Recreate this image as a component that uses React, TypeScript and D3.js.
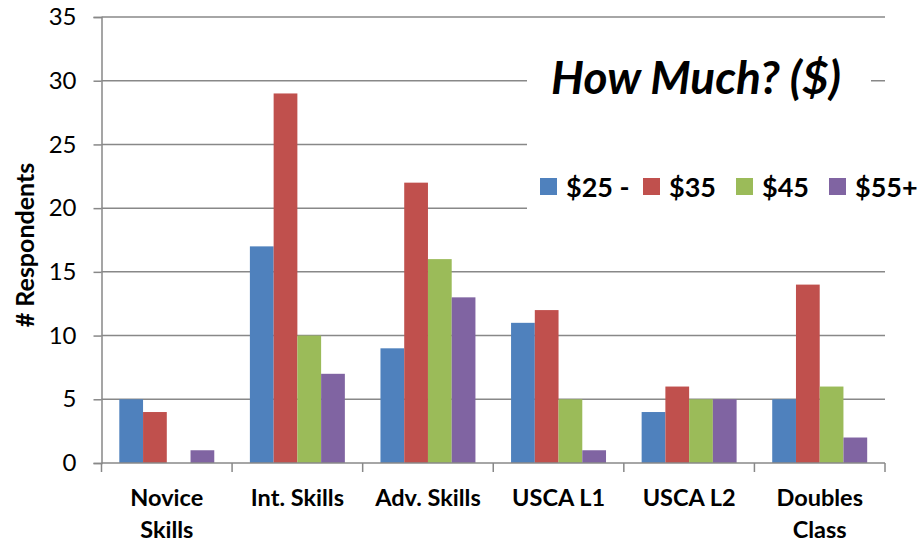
import React, { useEffect, useRef } from 'react';
import * as d3 from 'd3';

const categories = ['Novice Skills', 'Int. Skills', 'Adv. Skills', 'USCA L1', 'USCA L2', 'Doubles Class'];
const seriesNames = ['$25 -', '$35', '$45', '$55+'];
const price25 = [5, 17, 9, 11, 4, 5];
const price35 = [4, 29, 22, 12, 6, 14];
const price45 = [0, 10, 16, 5, 5, 6];
const price55 = [1, 7, 13, 1, 5, 2];
const yTicks = [0, 5, 10, 15, 20, 25, 30, 35];
const colors = ['#4F81BD', '#C0504D', '#9BBB59', '#8064A2'];

const FONT = 'Lato, "Open Sans", sans-serif';

function App() {
  const ref = useRef<SVGSVGElement | null>(null);

  useEffect(() => {
    if (!ref.current) return;
    const svg = d3.select(ref.current);
    svg.selectAll('*').remove();

    const left = 101.5, right = 885, top = 17, bottom = 463;
    const values = [price25, price35, price45, price55];

    const x = d3.scaleBand().domain(categories).range([left, right]).paddingInner(0).paddingOuter(0);
    const xs = d3.scaleBand().domain(seriesNames).range([0, x.bandwidth()]).paddingInner(0).paddingOuter(0.75);
    const y = d3.scaleLinear().domain([0, 35]).range([bottom, top]);

    // gridlines
    svg.append('g')
      .selectAll('line')
      .data(yTicks.filter(t => t > 0))
      .enter()
      .append('line')
      .attr('x1', left).attr('x2', right)
      .attr('y1', d => y(d)).attr('y2', d => y(d))
      .attr('stroke', '#888').attr('stroke-width', 1.5);

    // y axis
    const yAxis = d3.axisLeft(y).tickValues(yTicks).tickSize(8).tickPadding(17);
    const yg = svg.append('g').attr('transform', `translate(${left},0)`).call(yAxis);
    yg.select('.domain').attr('stroke', '#888').attr('stroke-width', 1.5);
    yg.selectAll('.tick line').attr('stroke', '#888').attr('stroke-width', 1.5);
    yg.selectAll('.tick text').attr('fill', '#000').attr('font-size', 24).attr('font-family', FONT);

    // bars
    categories.forEach((cat, ci) => {
      svg.append('g')
        .selectAll('rect')
        .data(seriesNames.map((s, si) => ({ s, v: values[si][ci], c: colors[si] })))
        .enter()
        .append('rect')
        .attr('x', d => (x(cat) || 0) + (xs(d.s) || 0))
        .attr('y', d => y(d.v))
        .attr('width', xs.bandwidth())
        .attr('height', d => bottom - y(d.v))
        .attr('fill', d => d.c);
    });

    // x axis
    svg.append('line')
      .attr('x1', left).attr('x2', right).attr('y1', bottom).attr('y2', bottom)
      .attr('stroke', '#888').attr('stroke-width', 1.5);
    const bounds = categories.map(c => x(c) || 0).concat([right]);
    svg.append('g').selectAll('line').data(bounds).enter().append('line')
      .attr('x1', d => d).attr('x2', d => d).attr('y1', bottom).attr('y2', bottom + 9)
      .attr('stroke', '#888').attr('stroke-width', 1.5);

    // category labels
    const lines: Record<string, string[]> = {
      'Novice Skills': ['Novice', 'Skills'],
      'Doubles Class': ['Doubles', 'Class'],
    };
    categories.forEach(cat => {
      const parts = lines[cat] || [cat];
      const t = svg.append('text')
        .attr('x', (x(cat) || 0) + x.bandwidth() / 2)
        .attr('y', 506)
        .attr('text-anchor', 'middle')
        .attr('font-size', 23.5).attr('font-weight', 'bold').attr('font-family', FONT);
      parts.forEach((p, i) => {
        t.append('tspan').attr('x', (x(cat) || 0) + x.bandwidth() / 2).attr('dy', i === 0 ? 0 : 32).text(p);
      });
    });

    // y title
    svg.append('text')
      .attr('transform', `translate(34,${245}) rotate(-90)`)
      .attr('text-anchor', 'middle')
      .attr('font-size', 25).attr('font-weight', 'bold').attr('font-family', FONT)
      .text('# Respondents');

    // title box + title
    svg.append('rect').attr('x', 527).attr('y', 50).attr('width', 344).attr('height', 62).attr('fill', '#fff');
    svg.append('text')
      .attr('x', 696).attr('y', 94)
      .attr('text-anchor', 'middle')
      .attr('font-size', 46).attr('font-weight', 'bold').attr('font-style', 'italic').attr('font-family', FONT)
      .text('How Much? ($)');

    // legend
    svg.append('rect').attr('x', 527).attr('y', 130).attr('width', 395).attr('height', 90).attr('fill', '#fff');
    const legX = [540, 643, 736, 829];
    seriesNames.forEach((s, i) => {
      svg.append('rect').attr('x', legX[i]).attr('y', 178).attr('width', 17).attr('height', 17).attr('fill', colors[i]);
      svg.append('text')
        .attr('x', legX[i] + 26).attr('y', 197)
        .attr('font-size', 27).attr('font-weight', 'bold').attr('font-family', FONT)
        .text(s);
    });
  }, []);

  return (
    <svg ref={ref} width={922} height={543}
      style={{ position: 'absolute', left: 0, top: 0, background: '#fff' }} />
  );
}

export default App;
